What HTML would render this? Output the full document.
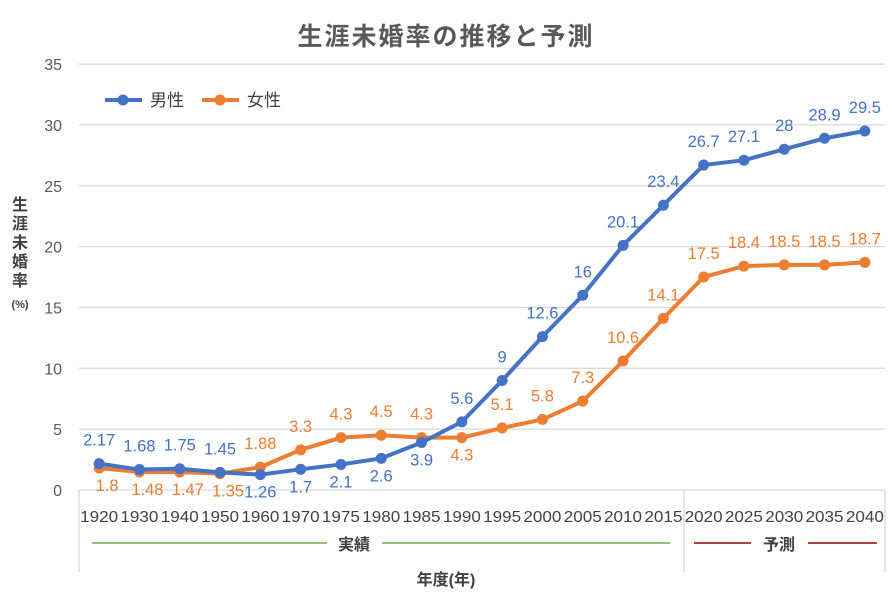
<!DOCTYPE html>
<html><head><meta charset="utf-8"><style>
body{margin:0;background:#fff}
svg text{font-family:"Liberation Sans","Noto Sans CJK JP",sans-serif}
</style></head><body>
<svg id="s" width="892" height="608" xmlns="http://www.w3.org/2000/svg">
<rect width="892" height="608" fill="#fff"/>
<text x="446" y="45" text-anchor="middle" font-size="25" font-weight="bold" fill="#595959" letter-spacing="2">生涯未婚率の推移と予測</text>
<g id="grid"></g>
<g font-size="16" font-weight="bold" fill="#404040" text-anchor="middle">
<text x="20" y="210">生</text><text x="20" y="229">涯</text><text x="20" y="248">未</text><text x="20" y="267">婚</text><text x="20" y="286">率</text>
<text x="20" y="308" font-size="11">(%)</text>
</g>
<line x1="105" y1="100" x2="142" y2="100" stroke="#4472C4" stroke-width="4"/><circle cx="123" cy="100" r="5.5" fill="#4472C4"/>
<text x="150" y="106" font-size="17" fill="#404040">男性</text>
<line x1="202" y1="100" x2="239" y2="100" stroke="#ED7D31" stroke-width="4"/><circle cx="220" cy="100" r="5.5" fill="#ED7D31"/>
<text x="247" y="106" font-size="17" fill="#404040">女性</text>
<line x1="92" y1="543" x2="327" y2="543" stroke="#70AD47" stroke-width="1.5"/>
<line x1="382" y1="543" x2="670" y2="543" stroke="#70AD47" stroke-width="1.5"/>
<text x="354" y="550" font-size="16" font-weight="bold" fill="#404040" text-anchor="middle">実績</text>
<line x1="694" y1="543" x2="751" y2="543" stroke="#A00000" stroke-width="1.5"/>
<line x1="808" y1="543" x2="877" y2="543" stroke="#A00000" stroke-width="1.5"/>
<text x="779" y="550" font-size="16" font-weight="bold" fill="#404040" text-anchor="middle">予測</text>
<text x="446" y="585" font-size="16" font-weight="bold" fill="#404040" text-anchor="middle">年度(年)</text>
<g id="series"></g>
</svg>
<script>
const NS="http://www.w3.org/2000/svg";
function el(p,t,a,txt){const e=document.createElementNS(NS,t);for(const k in a)e.setAttribute(k,a[k]);if(txt!=null)e.textContent=txt;p.appendChild(e);return e;}
const g=document.getElementById('grid'),s=document.getElementById('series');
const X0=79,W=40.3,Y0=490,K=12.17;
const yr=['1920','1930','1940','1950','1960','1970','1975','1980','1985','1990','1995','2000','2005','2010','2015','2020','2025','2030','2035','2040'];
for(let v=5;v<=35;v+=5){const y=Y0-v*K;el(g,'line',{x1:X0,x2:885,y1:y,y2:y,stroke:'#d9d9d9','stroke-width':1.3});}
for(let v=0;v<=35;v+=5){el(g,'text',{x:62,y:Y0-v*K+6,'font-size':16,fill:'#595959','text-anchor':'end'},String(v));}
el(g,'line',{x1:X0,x2:885,y1:Y0,y2:Y0,stroke:'#d9d9d9','stroke-width':1.3});
[X0,684,885].forEach(x=>el(g,'line',{x1:x,x2:x,y1:Y0,y2:572,stroke:'#d9d9d9','stroke-width':1.3}));
yr.forEach((t,i)=>el(g,'text',{x:X0+W*(i+0.5),y:522,'font-size':16,fill:'#404040','text-anchor':'middle',textLength:38,lengthAdjust:'spacingAndGlyphs'},t));
const m=[2.17,1.68,1.75,1.45,1.26,1.7,2.1,2.6,3.9,5.6,9,12.6,16,20.1,23.4,26.7,27.1,28,28.9,29.5];
const f=[1.8,1.48,1.47,1.35,1.88,3.3,4.3,4.5,4.3,4.3,5.1,5.8,7.3,10.6,14.1,17.5,18.4,18.5,18.5,18.7];
const mb=[4,5,6,7,8], fb=[0,1,2,3,9];
function draw(d,c,below){
 const pts=d.map((v,i)=>[X0+W*(i+0.5),Y0-v*K]);
 el(s,'polyline',{points:pts.map(p=>p.join(',')).join(' '),fill:'none',stroke:c,'stroke-width':4,'stroke-linejoin':'round'});
 pts.forEach(p=>el(s,'circle',{cx:p[0],cy:p[1],r:5.5,fill:c}));
 pts.forEach((p,i)=>{const b=below.includes(i);el(s,'text',{x:p[0]+(b&&c=='#ED7D31'&&i<4?8:0),y:b?p[1]+23:p[1]-18,'font-size':16.5,fill:c,'text-anchor':'middle'},String(d[i]));});
}
draw(f,'#ED7D31',fb);
draw(m,'#4472C4',mb);
</script>
</body></html>
